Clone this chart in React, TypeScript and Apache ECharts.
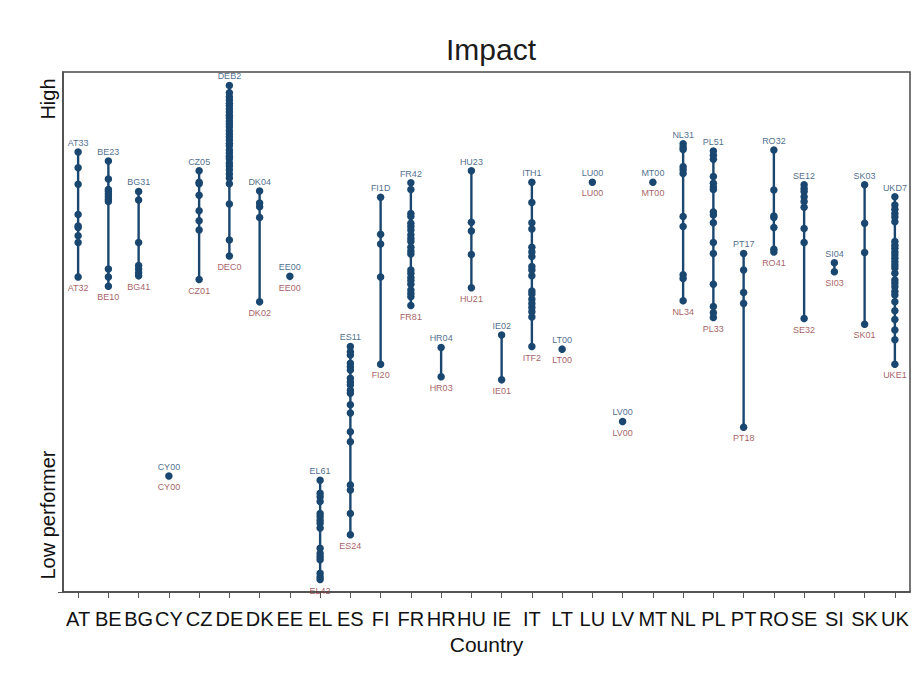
import React, { useEffect, useRef } from "react";
import * as echarts from "echarts";

// Countries on the x axis
const countries = ["AT","BE","BG","CY","CZ","DE","DK","EE","EL","ES","FI","FR","HR","HU","IE","IT","LT","LU","LV","MT","NL","PL","PT","RO","SE","SI","SK","UK"];

// Labels of the highest and lowest region of each country
const topLabels = ["AT33","BE23","BG31","CY00","CZ05","DEB2","DK04","EE00","EL61","ES11","FI1D","FR42","HR04","HU23","IE02","ITH1","LT00","LU00","LV00","MT00","NL31","PL51","PT17","RO32","SE12","SI04","SK03","UKD7"];
const bottomLabels = ["AT32","BE10","BG41","CY00","CZ01","DEC0","DK02","EE00","EL42","ES24","FI20","FR81","HR03","HU21","IE01","ITF2","LT00","LU00","LV00","MT00","NL34","PL33","PT18","RO41","SE32","SI03","SK01","UKE1"];

// Regional impact scores (0 = lowest, 100 = highest)
const AT = [84.6, 81.6, 78.4, 72.6, 70.4, 70.1, 68.5, 67.2, 60.6];
const BE = [82.9, 79.4, 77.4, 77.0, 76.5, 76.0, 75.5, 75.1, 62.1, 60.6, 58.8];
const BG = [77.0, 75.4, 67.2, 62.8, 62.1, 61.4, 60.8];
const CY = [22.3];
const CZ = [81.0, 78.8, 78.5, 76.3, 73.3, 71.4, 69.6, 60.1];
const DE = [97.4, 96.0, 95.2, 94.6, 94.0, 93.5, 92.9, 92.3, 91.7, 91.2, 90.6, 90.0, 89.4, 88.7, 88.1, 87.5, 86.9, 86.3, 85.8, 85.0, 84.4, 83.8, 83.3, 82.5, 81.9, 81.2, 80.4, 79.6, 78.5, 74.6, 67.7, 64.6];
const DK = [77.1, 74.8, 74.1, 72.0, 55.8];
const EE = [60.7];
const EL = [21.5, 19.0, 18.3, 17.4, 15.1, 14.5, 13.8, 13.2, 12.3, 8.4, 7.4, 6.8, 6.2, 3.6, 2.9, 2.4];
const ES = [47.2, 46.2, 45.6, 44.0, 43.3, 42.7, 41.1, 40.4, 39.8, 38.8, 38.2, 36.0, 34.4, 30.8, 28.9, 20.6, 19.6, 15.1, 11.0];
const FI = [75.9, 68.8, 66.9, 60.6, 43.8];
const FR = [78.7, 77.4, 72.8, 72.2, 70.9, 70.3, 69.6, 68.7, 68.0, 67.4, 66.3, 65.6, 65.0, 61.9, 61.3, 60.5, 59.9, 59.2, 58.1, 57.4, 56.8, 55.1];
const HR = [47.0, 41.4];
const HU = [81.0, 71.1, 69.4, 64.9, 58.5];
const IE = [49.4, 40.8];
const IT = [78.8, 74.9, 71.0, 69.8, 66.3, 65.4, 64.5, 62.6, 61.9, 60.8, 57.9, 57.3, 56.3, 55.5, 54.7, 53.9, 52.9, 47.2];
const LT = [46.7];
const LU = [78.8];
const LV = [32.8];
const MT = [78.8];
const NL = [86.2, 85.6, 85.1, 81.8, 81.2, 80.5, 72.2, 70.3, 61.0, 60.3, 56.0];
const PL = [84.8, 84.0, 83.2, 79.9, 78.6, 77.9, 77.4, 73.1, 72.5, 71.0, 67.2, 65.1, 59.2, 54.9, 53.7, 52.8];
const PT = [65.1, 61.9, 57.6, 55.5, 31.7];
const RO = [85.0, 77.3, 72.3, 72.0, 70.1, 65.9, 65.4];
const SE = [78.3, 77.6, 77.0, 76.0, 75.1, 74.0, 69.9, 67.2, 52.6];
const SI = [63.3, 61.6];
const SK = [78.3, 70.9, 65.3, 51.5];
const UK = [76.0, 74.4, 73.6, 72.8, 72.1, 71.2, 67.4, 66.7, 66.1, 65.4, 64.8, 64.2, 63.5, 62.9, 62.3, 61.3, 60.0, 59.4, 58.7, 57.8, 57.1, 55.8, 54.1, 52.4, 50.4, 48.5, 43.8];

const regionScores = [AT, BE, BG, CY, CZ, DE, DK, EE, EL, ES, FI, FR, HR, HU, IE, IT, LT, LU, LV, MT, NL, PL, PT, RO, SE, SI, SK, UK];

// Y-axis text labels
const yTickLabels = [
  { value: 94.8, text: "High" },
  { value: 14.8, text: "Low performer" },
];

const NAVY = "#1a476f";
const MAROON = "#90353b";
const FONT = "'Liberation Sans', Arial, sans-serif";

export default function App() {
  const ref = useRef<HTMLDivElement | null>(null);

  useEffect(() => {
    if (!ref.current) return;
    const chart = echarts.init(ref.current, undefined, { renderer: "svg" });

    const rangeData = regionScores.map((vals, i) => [i, Math.min(...vals), Math.max(...vals)]);
    const pointData: number[][] = [];
    regionScores.forEach((vals, i) => vals.forEach((v) => pointData.push([i, v])));
    const topData = regionScores.map((vals, i) => ({ value: [i, Math.max(...vals)], name: topLabels[i] }));
    const bottomData = regionScores.map((vals, i) => ({ value: [i, Math.min(...vals)], name: bottomLabels[i] }));

    chart.setOption({
      animation: false,
      textStyle: { fontFamily: FONT },
      title: {
        text: "Impact",
        left: 486,
        textAlign: "center",
        top: 29,
        textStyle: { fontSize: 30, fontWeight: "normal", color: "#1c1c1c", fontFamily: FONT },
      },
      grid: {
        left: 63,
        right: 10,
        top: 72,
        bottom: 88,
        show: true,
        borderColor: "#4a4a4a",
        borderWidth: 1.5,
        backgroundColor: "transparent",
      },
      xAxis: {
        type: "category",
        data: countries,
        boundaryGap: true,
        name: "Country",
        nameLocation: "middle",
        nameGap: 37,
        nameTextStyle: { fontSize: 21, color: "#111", fontFamily: FONT },
        axisLine: { show: true, lineStyle: { color: "#4a4a4a", width: 1.5 } },
        axisTick: { show: true, alignWithLabel: true, length: 6, lineStyle: { color: "#555" } },
        axisLabel: { fontSize: 20, color: "#111", margin: 17, interval: 0, fontFamily: FONT },
        splitLine: { show: false },
      },
      yAxis: {
        type: "value",
        min: 0,
        max: 100,
        axisLine: { show: true, lineStyle: { color: "#4a4a4a", width: 1.5 } },
        axisTick: { show: true, length: 5, customValues: [0], lineStyle: { color: "#555" } },
        axisLabel: {
          show: true,
          rotate: 90,
          margin: 5,
          fontSize: 20,
          color: "#111",
          fontFamily: FONT,
          customValues: yTickLabels.map((d) => d.value),
          formatter: (v: number) => {
            const f = yTickLabels.find((d) => Math.abs(d.value - v) < 0.01);
            return f ? f.text : "";
          },
        },
        splitLine: { show: false },
      },
      series: [
        {
          type: "custom",
          name: "range",
          data: rangeData,
          encode: { x: 0, y: [1, 2] },
          renderItem: (params: any, api: any) => {
            const x = api.value(0);
            const p1 = api.coord([x, api.value(1)]);
            const p2 = api.coord([x, api.value(2)]);
            return {
              type: "line",
              shape: { x1: p1[0], y1: p1[1], x2: p2[0], y2: p2[1] },
              style: { stroke: NAVY, lineWidth: 2.4 },
            };
          },
          z: 1,
        },
        {
          type: "scatter",
          name: "regions",
          data: pointData,
          symbol: "circle",
          symbolSize: 7.5,
          itemStyle: { color: NAVY, opacity: 1 },
          z: 2,
        },
        {
          type: "scatter",
          name: "top",
          data: topData,
          symbolSize: 7.5,
          itemStyle: { color: "rgba(0,0,0,0)" },
          label: {
            show: true,
            position: "top",
            distance: 1,
            formatter: "{b}",
            fontSize: 9,
            color: NAVY,
            fontFamily: FONT,
          },
          z: 3,
        },
        {
          type: "scatter",
          name: "bottom",
          data: bottomData,
          symbolSize: 7.5,
          itemStyle: { color: "rgba(0,0,0,0)" },
          label: {
            show: true,
            position: "bottom",
            distance: 3,
            formatter: "{b}",
            fontSize: 9,
            color: MAROON,
            fontFamily: FONT,
          },
          z: 3,
        },
      ],
    });

    return () => chart.dispose();
  }, []);

  return (
    <div
      ref={ref}
      style={{ position: "fixed", left: 0, top: 0, width: 920, height: 680, background: "#fff" }}
    />
  );
}
